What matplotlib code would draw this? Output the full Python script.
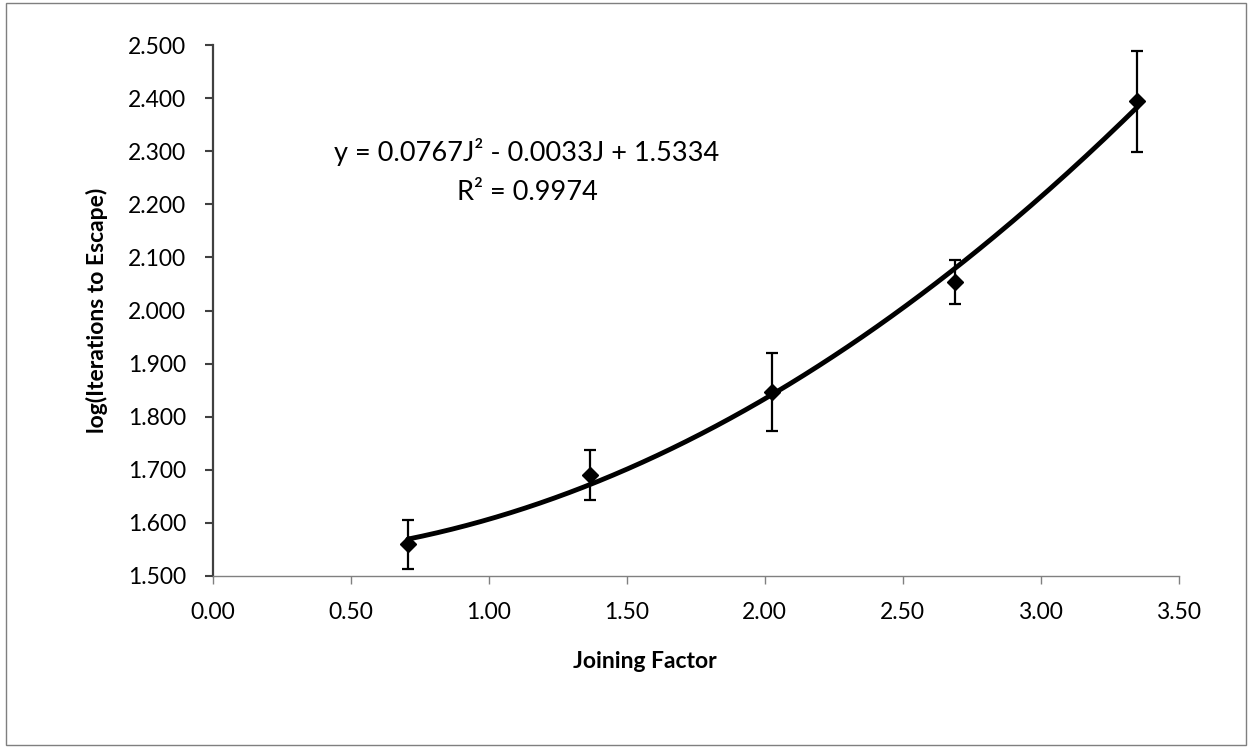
import numpy as np
import matplotlib
matplotlib.use("Agg")
import matplotlib.pyplot as plt
from matplotlib.patches import Rectangle

# Data
joining_factor = [0.707, 1.367, 2.028, 2.689, 3.350]
log_iterations = [1.560, 1.690, 1.847, 2.054, 2.394]
error_half = [0.046, 0.047, 0.073, 0.041, 0.095]
trend_coeffs = [0.0767, -0.0033, 1.5334]   # quadratic trendline shown on chart
x_ticks = [0.0, 0.5, 1.0, 1.5, 2.0, 2.5, 3.0, 3.5]
y_ticks = [1.5, 1.6, 1.7, 1.8, 1.9, 2.0, 2.1, 2.2, 2.3, 2.4, 2.5]
eq_text = "y = 0.0767J² - 0.0033J + 1.5334"
r2_text = "R² = 0.9974"

plt.rcParams['font.family'] = ['Lato', 'DejaVu Sans']

fig = plt.figure(figsize=(12.53, 7.53), dpi=100)
fig.patches.append(Rectangle((6/1253, 1-745/753), 1240/1253, 742/753,
                             transform=fig.transFigure, fill=False,
                             edgecolor='#7f7f7f', linewidth=1.0))
ax = fig.add_axes([212.7/1253, 1-576/753, 966/1253, 531/753])

xs = np.linspace(min(joining_factor), max(joining_factor), 200)
ax.plot(xs, np.polyval(trend_coeffs, xs), color='black', lw=3.5, zorder=2,
        solid_capstyle='round')
ax.errorbar(joining_factor, log_iterations, yerr=error_half, fmt='D',
            color='black', ms=8, ecolor='black', elinewidth=1.6,
            capsize=4.5, capthick=1.6, zorder=3)

ax.set_xlim(0, 3.5)
ax.set_ylim(1.5, 2.5)
ax.set_xticks(x_ticks)
ax.set_yticks(y_ticks)
ax.set_xticklabels([f"{v:.2f}" for v in x_ticks])
ax.set_yticklabels([f"{v:.3f}" for v in y_ticks])
ax.tick_params(axis='both', direction='out', length=5.5, width=1.0,
               labelsize=16.5, pad=13.5, colors='black')
ax.tick_params(axis='y', color='#404040', width=1.5)
ax.tick_params(axis='x', color='#808080')
for s in ['top', 'right']:
    ax.spines[s].set_visible(False)
ax.spines['left'].set_color('#404040')
ax.spines['left'].set_linewidth(1.6)
ax.spines['bottom'].set_color('#808080')
ax.spines['bottom'].set_linewidth(1.0)

fig.text(97/1253, 1-310/753, "log(Iterations to Escape)", rotation=90,
         ha='center', va='center', fontsize=16.5, fontweight='bold')
fig.text(645/1253, 1-662/753, "Joining Factor", ha='center', va='center',
         fontsize=16.5, fontweight='bold')
fig.text(527/1253, 1-152.5/753, eq_text, ha='center', va='center', fontsize=19.5)
fig.text(527/1253, 1-192/753, r2_text, ha='center', va='center', fontsize=19.5)

fig.savefig("out.png", dpi=100)
